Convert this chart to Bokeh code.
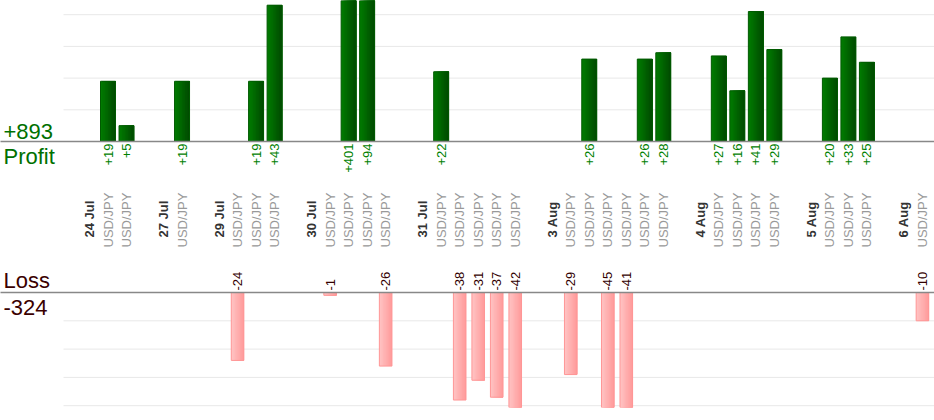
import math
from bokeh.plotting import figure
from bokeh.models import Range1d
from bokeh.core.properties import value
from bokeh.embed import file_html
from bokeh.resources import INLINE

# ---------------- data ----------------
day_labels = ["24 Jul", "27 Jul", "29 Jul", "30 Jul", "31 Jul", "3 Aug", "4 Aug", "5 Aug", "6 Aug"]
trades_per_day = [2, 1, 3, 4, 5, 6, 4, 3, 1]
trade_pips = [19, 5,
              19,
              -24, 19, 43,
              -1, 401, 94, -26,
              22, -38, -31, -37, -42,
              -29, 26, -45, -41, 26, 28,
              27, 16, 41, 29,
              20, 33, 25,
              -10]
instrument = "USD/JPY"
profit_grid = [10, 20, 30, 40]
loss_grid = [-10, -20, -30, -40]

# ---------------- layout (page pixels) ----------------
W, H = 934, 412
FRAME_L, FRAME_R = 0, 934
FRAME_T, FRAME_B = 0, 407
SLOT0_PX, SLOT_PX = 89, 18.51
GRID_PX = 63
P_ZERO, P_SCALE = 141, 3.17
L_ZERO, L_SCALE = 292, 2.83
FONT = value("Liberation Sans")
P_WIDTH, L_WIDTH = 0.81, 0.68


def sx(px):
    return (px - SLOT0_PX) / SLOT_PX


def py_p(py):
    return (P_ZERO - py) / P_SCALE


def py_l(py):
    return (L_ZERO - py) / L_SCALE


def lerp_color(c0, c1, t):
    a = [int(c0[i:i + 2], 16) for i in (1, 3, 5)]
    b = [int(c1[i:i + 2], 16) for i in (1, 3, 5)]
    return "#" + "".join(f"{round(a[i] + (b[i] - a[i]) * t):02x}" for i in range(3))


# slot positions: date slot, trade slots, blank slot
date_x, trade_x = [], []
s = 0
for d, n in zip(day_labels, trades_per_day):
    date_x.append(s)
    s += 1
    for _ in range(n):
        trade_x.append(s)
        s += 1
    s += 1

prof_x = [x for x, v in zip(trade_x, trade_pips) if v > 0]
prof_v = [v for v in trade_pips if v > 0]
loss_x = [x for x, v in zip(trade_x, trade_pips) if v < 0]
loss_v = [v for v in trade_pips if v < 0]

p = figure(width=W, height=H, title=None,
           x_range=Range1d(sx(FRAME_L), sx(FRAME_R)),
           y_range=Range1d(py_p(FRAME_B), py_p(FRAME_T)),
           x_axis_type=None, y_axis_type=None,
           output_backend="svg", toolbar_location=None)
p.extra_y_ranges = {"loss": Range1d(py_l(FRAME_B), py_l(FRAME_T))}
p.min_border = 0
p.min_border_bottom = H - (FRAME_B - FRAME_T)
p.outline_line_color = None
p.background_fill_color = "white"
p.border_fill_color = "white"

# grid lines
p.segment(x0=sx(GRID_PX), x1=sx(FRAME_R) + 1, y0=profit_grid, y1=profit_grid,
          line_color="#e8e8e8", line_width=1)
p.segment(x0=sx(GRID_PX), x1=sx(FRAME_R) + 1, y0=loss_grid, y1=loss_grid,
          line_color="#e8e8e8", line_width=1, y_range_name="loss")

# bars with a horizontal gradient: nested bars anchored at the right edge,
# each narrower and darker than the previous one
N = 10
for k in range(N):
    t = k / (N - 1)
    f = k / N  # fraction of width cut from the left
    p.vbar(x=[x + P_WIDTH * f / 2 for x in prof_x], top=prof_v, bottom=0,
           width=P_WIDTH * (1 - f), fill_color=lerp_color("#007a00", "#004c00", t),
           line_color=None)
    p.vbar(x=[x + L_WIDTH * f / 2 for x in loss_x], top=0, bottom=loss_v,
           width=L_WIDTH * (1 - f), fill_color=lerp_color("#ffc2c2", "#ff9c9c", t),
           line_color=None, y_range_name="loss")
p.vbar(x=prof_x, top=prof_v, bottom=0, width=P_WIDTH,
       fill_color=None, line_color="#005a00", line_width=1)
p.vbar(x=loss_x, top=0, bottom=loss_v, width=L_WIDTH,
       fill_color=None, line_color="#ff9696", line_width=1, y_range_name="loss")

# zero lines
p.segment(x0=[sx(FRAME_L) - 1], x1=[sx(FRAME_R) + 1], y0=[0], y1=[0],
          line_color="#888888", line_width=1.3)
p.segment(x0=[sx(FRAME_L) - 1], x1=[sx(FRAME_R) + 1], y0=[0], y1=[0],
          line_color="#888888", line_width=1.3, y_range_name="loss")

# value labels
p.text(x=prof_x, y=py_p(143), text=[f"+{v}" for v in prof_v], angle=math.pi / 2,
       text_align="right", text_baseline="middle", text_font=FONT,
       text_font_size="13px", text_color="#008000")
p.text(x=loss_x, y=py_l(290), text=[str(v) for v in loss_v], angle=math.pi / 2,
       text_align="left", text_baseline="middle", text_font=FONT,
       text_font_size="13px", text_color="#330000", y_range_name="loss")

# category labels
p.text(x=date_x, y=py_p(237), text=day_labels, angle=math.pi / 2,
       text_align="left", text_baseline="middle", text_font=FONT,
       text_font_size="13px", text_font_style="bold", text_color="#333333")
p.text(x=trade_x, y=py_p(247), text=[instrument] * len(trade_x), angle=math.pi / 2,
       text_align="left", text_baseline="middle", text_font=FONT,
       text_font_size="13px", text_color="#999999")

# totals (anchored at the vertical centre of the capitals)
TX = sx(3)
p.text(x=[TX], y=[py_p(130.5)], text=[f"+{sum(prof_v)}"], text_align="left",
       text_baseline="middle", text_font=FONT, text_font_size="22px", text_color="#007000")
p.text(x=[TX], y=[py_p(155.5)], text=["Profit"], text_align="left",
       text_baseline="middle", text_font=FONT, text_font_size="22px", text_color="#007000")
p.text(x=[TX], y=[py_l(280.2)], text=["Loss"], text_align="left",
       text_baseline="middle", text_font=FONT, text_font_size="22px", text_color="#3a0000",
       y_range_name="loss")
p.text(x=[TX], y=[py_l(306.5)], text=[f"{sum(loss_v)}"], text_align="left",
       text_baseline="middle", text_font=FONT, text_font_size="22px", text_color="#3a0000",
       y_range_name="loss")

open("out.html", "w").write(file_html(p, INLINE))
